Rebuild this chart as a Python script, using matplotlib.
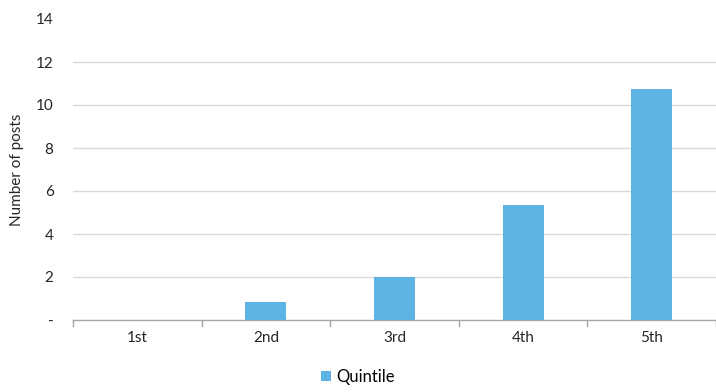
import matplotlib
matplotlib.use("Agg")
import matplotlib.pyplot as plt

plt.rcParams['font.family'] = ['Lato', 'DejaVu Sans']

quintiles = ["1st", "2nd", "3rd", "4th", "5th"]
posts = [0.0, 0.85, 2.0, 5.37, 10.73]
y_ticks = [0, 2, 4, 6, 8, 10, 12, 14]
y_labels = ["-", "2", "4", "6", "8", "10", "12", "14"]

bar_color = "#5DB3E3"
grid_color = "#D9D9D9"
axis_color = "#A6A6A6"


def draw_chart():
    fig = plt.figure(figsize=(7.16, 3.92), dpi=100)
    ax = fig.add_axes([73 / 716, 72 / 392, 643 / 716, 301 / 392])

    x = range(len(quintiles))
    ax.bar(x, posts, width=0.32, color=bar_color, label="Quintile", zorder=3)

    ax.set_xlim(-0.5, len(quintiles) - 0.5)
    ax.set_ylim(0, 14)
    ax.set_yticks(y_ticks)
    ax.set_yticklabels(y_labels, fontsize=11, color="#262626")
    ax.set_xticks(list(x))
    ax.set_xticklabels(quintiles, fontsize=11, color="#262626")
    ax.tick_params(axis="y", length=0, pad=14)
    ax.tick_params(axis="x", length=0, pad=8)

    # category separators below the axis line
    for b in range(len(quintiles) + 1):
        ax.plot([b - 0.5, b - 0.5], [0, -0.28], color=axis_color, lw=1,
                clip_on=False, zorder=4)

    ax.yaxis.grid(True, color=grid_color, lw=1, zorder=0)
    ax.get_ygridlines()[-1].set_visible(False)
    ax.get_ygridlines()[0].set_visible(False)
    for side in ["top", "right", "left"]:
        ax.spines[side].set_visible(False)
    ax.spines["bottom"].set_color(axis_color)
    ax.spines["bottom"].set_linewidth(1)

    ax.set_ylabel("Number of posts", fontsize=11, color="#262626")
    ax.yaxis.set_label_coords(-0.076, 0.5)

    fig.legend(loc="center", bbox_to_anchor=(0.5, 15 / 392), frameon=False,
               fontsize=12, handlelength=0.6, handleheight=0.6,
               handletextpad=0.3)
    return fig


if __name__ == "__main__":
    fig = draw_chart()
    fig.savefig("out.png", dpi=100)
